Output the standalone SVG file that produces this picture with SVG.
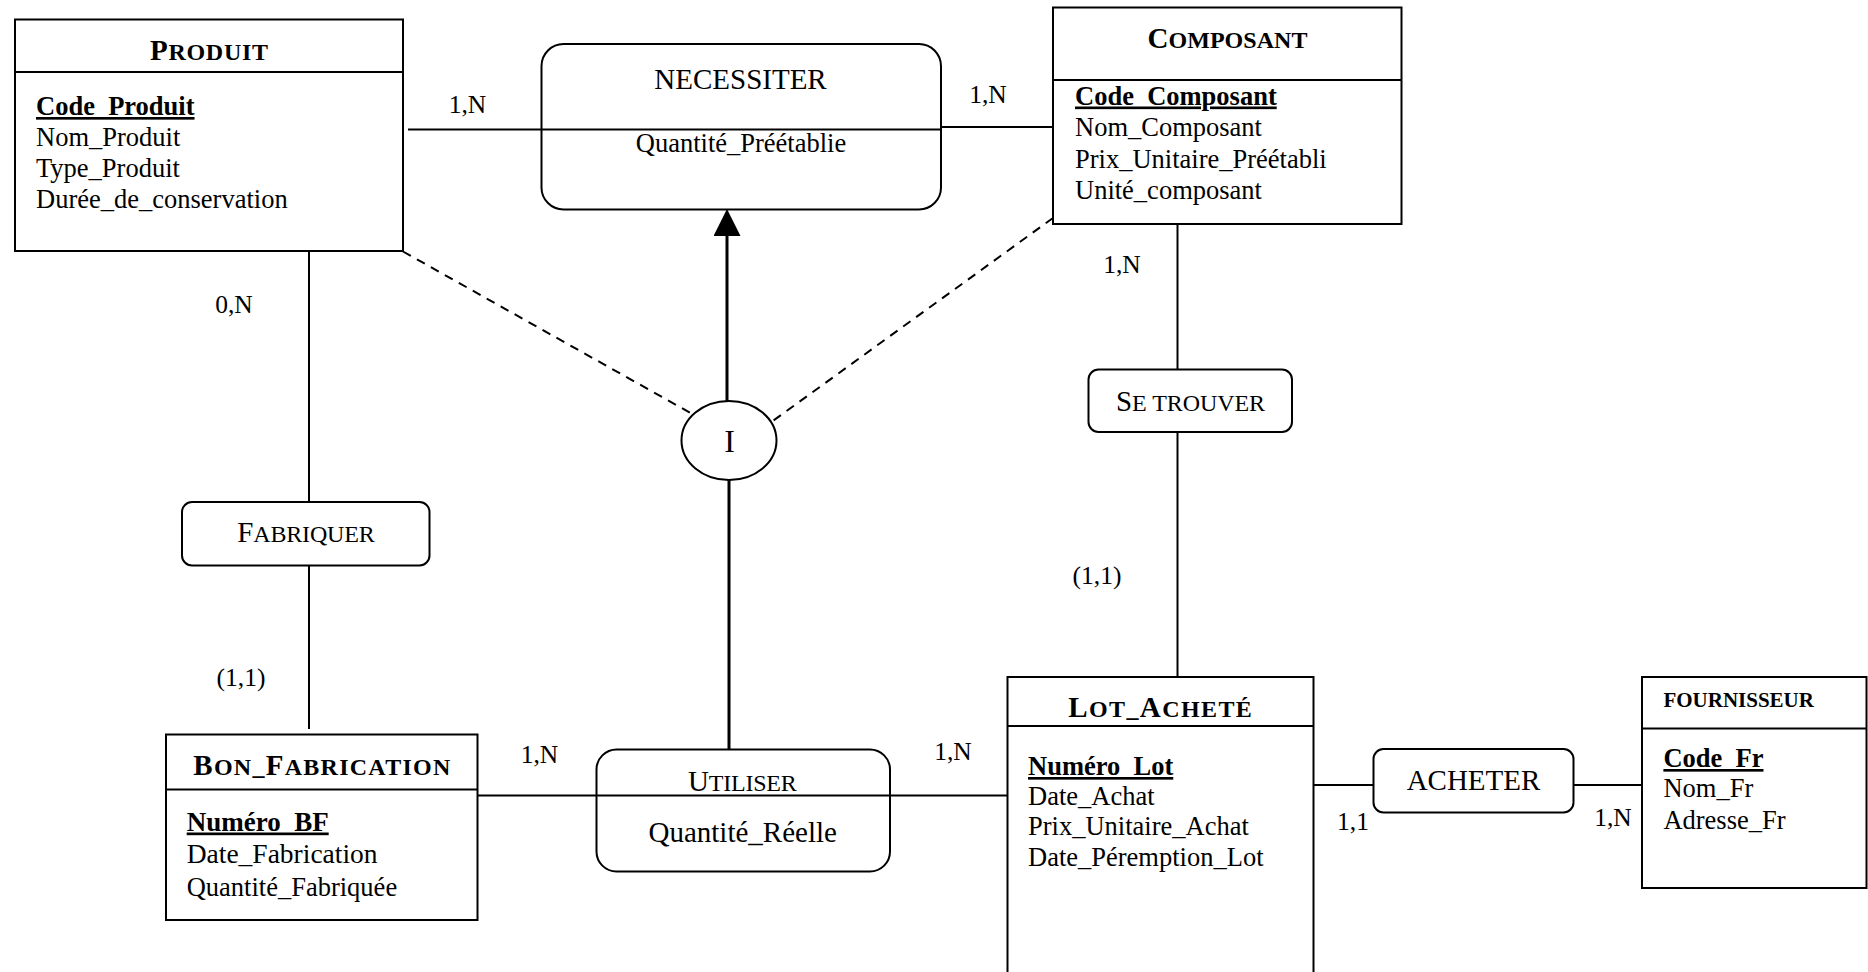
<svg xmlns="http://www.w3.org/2000/svg" width="1868" height="972" viewBox="0 0 1868 972">
<defs>
<marker id="tri" markerUnits="userSpaceOnUse" viewBox="0 0 27 27" refX="0" refY="13.5" markerWidth="27" markerHeight="27" orient="auto">
<path d="M0,0 L27,13.5 L0,27 Z" fill="#000"/>
</marker>
<style>
text{font-family:"Liberation Serif","Times New Roman",serif;fill:#000}
.box{fill:#fff;stroke:#000;stroke-width:2}
.sep{stroke:#000;stroke-width:2}
.ln{stroke:#000;stroke-width:2;fill:none}
.thick{stroke:#000;stroke-width:3;fill:none}
.dash{stroke:#000;stroke-width:2;fill:none;stroke-dasharray:9 7}
.title{font-weight:bold;text-anchor:middle}
.big{font-size:29px}
.sm{font-size:24px}
.attr{font-size:26.5px}
.key{font-weight:bold;text-decoration:underline}
.card{font-size:25.5px;text-anchor:middle}
.rel{font-size:29px;text-anchor:middle}
.mid{text-anchor:middle}
</style>
</defs>
<rect width="1868" height="972" fill="#fff"/>

<g id="connectors">
<path class="ln" d="M408 129.5 H941"/>
<path class="ln" d="M941 127 H1053"/>
<path class="ln" d="M1177.5 224 V369"/>
<path class="ln" d="M1177.5 432 V677"/>
<path class="ln" d="M309 251 V502"/>
<path class="ln" d="M309 565 V729"/>
<path class="ln" d="M478 795.5 H1008"/>
<path class="ln" d="M1314 785 H1373.5"/>
<path class="ln" d="M1573.5 785 H1642"/>
<path class="thick" d="M727 401 V236" marker-end="url(#tri)"/>
<path class="thick" d="M729 480 V749"/>
<path class="dash" d="M403 251.5 L690.5 413"/>
<path class="dash" d="M1053 218 L770 423"/>
<text class="card" x="467.5" y="113.3">1,N</text>
<text class="card" x="988" y="103">1,N</text>
<text class="card" x="1122" y="273">1,N</text>
<text class="card" x="234" y="312.5">0,N</text>
<text class="card" x="241" y="686">(1,1)</text>
<text class="card" x="1097" y="583.5">(1,1)</text>
<text class="card" x="539.5" y="762.7">1,N</text>
<text class="card" x="953" y="760">1,N</text>
<text class="card" x="1353" y="830">1,1</text>
<text class="card" x="1613" y="826">1,N</text>
</g>

<g id="produit">
<rect class="box" x="15" y="19.5" width="388" height="231.5"/>
<line class="sep" x1="15" y1="72" x2="403" y2="72"/>
<text class="title" x="209" y="59.5" textLength="118"><tspan class="big">P</tspan><tspan class="sm">RODUIT</tspan></text>
<text class="attr key" x="36" y="115">Code_Produit</text>
<text class="attr" x="36" y="145.5">Nom_Produit</text>
<text class="attr" x="36" y="176.5">Type_Produit</text>
<text class="attr" x="36" y="207.5">Durée_de_conservation</text>
</g>

<g id="necessiter">
<rect class="box" x="541.5" y="44" width="399.5" height="165.5" rx="22" ry="22"/>
<line class="sep" x1="541.5" y1="129.5" x2="941" y2="129.5"/>
<text class="rel" x="740.5" y="89.3">NECESSITER</text>
<text class="attr mid" x="741" y="151.7">Quantité_Préétablie</text>
</g>

<g id="composant">
<rect class="box" x="1053" y="7.5" width="348.5" height="216.5"/>
<line class="sep" x1="1053" y1="80" x2="1401.5" y2="80"/>
<text class="title" x="1227.5" y="48.3" textLength="160"><tspan class="big">C</tspan><tspan class="sm">OMPOSANT</tspan></text>
<text class="attr key" x="1075" y="104.5">Code_Composant</text>
<text class="attr" x="1075" y="136">Nom_Composant</text>
<text class="attr" x="1075" y="167.5">Prix_Unitaire_Préétabli</text>
<text class="attr" x="1075" y="199">Unité_composant</text>
</g>

<g id="interface">
<ellipse class="box" cx="729" cy="440.5" rx="47.5" ry="39.5"/>
<text class="mid" x="729.5" y="451.5" font-size="32">I</text>
</g>

<g id="se-trouver">
<rect class="box" x="1088.5" y="369.5" width="203.5" height="62.5" rx="10" ry="10"/>
<text class="mid" x="1190.5" y="410.7" textLength="149"><tspan class="big">S</tspan><tspan class="sm">E TROUVER</tspan></text>
</g>

<g id="fabriquer">
<rect class="box" x="182" y="502" width="247.5" height="63.5" rx="10" ry="10"/>
<text class="mid" x="306" y="541.7" textLength="137.5"><tspan class="big">F</tspan><tspan class="sm">ABRIQUER</tspan></text>
</g>

<g id="bon-fabrication">
<rect class="box" x="166" y="734.5" width="311.5" height="185.5"/>
<line class="sep" x1="166" y1="789.5" x2="477.5" y2="789.5"/>
<text class="title" x="321.8" y="775" textLength="257"><tspan class="big">B</tspan><tspan class="sm">ON_</tspan><tspan class="big">F</tspan><tspan class="sm">ABRICATION</tspan></text>
<text class="key" x="186.7" y="830.5" font-size="27">Numéro_BF</text>
<text x="186.7" y="863" font-size="27.5">Date_Fabrication</text>
<text x="186.7" y="895.5" font-size="26.5">Quantité_Fabriquée</text>
</g>

<g id="utiliser">
<rect class="box" x="596.5" y="749.5" width="293.5" height="122" rx="20" ry="20"/>
<line class="sep" x1="596.5" y1="795.5" x2="890" y2="795.5"/>
<text class="mid" x="742.4" y="790.7" textLength="108.7"><tspan class="big">U</tspan><tspan class="sm">TILISER</tspan></text>
<text class="mid" x="742.7" y="841.7" font-size="29">Quantité_Réelle</text>
</g>

<g id="lot-achete">
<rect class="box" x="1007.5" y="677" width="306" height="310"/>
<line class="sep" x1="1007.5" y1="726" x2="1313.5" y2="726"/>
<text class="title" x="1160" y="716.7" textLength="183.7"><tspan class="big">L</tspan><tspan class="sm">OT_</tspan><tspan class="big">A</tspan><tspan class="sm">CHETÉ</tspan></text>
<text class="attr key" x="1028" y="775">Numéro_Lot</text>
<text class="attr" x="1028" y="804.5">Date_Achat</text>
<text class="attr" x="1028" y="835">Prix_Unitaire_Achat</text>
<text class="attr" x="1028" y="865.5">Date_Péremption_Lot</text>
</g>

<g id="acheter">
<rect class="box" x="1373.5" y="749" width="200" height="63.5" rx="10" ry="10"/>
<text class="rel" x="1473.5" y="790">ACHETER</text>
</g>

<g id="fournisseur">
<rect class="box" x="1642" y="677" width="224.5" height="211"/>
<line class="sep" x1="1642" y1="728.5" x2="1866.5" y2="728.5"/>
<text x="1663.4" y="707.3" font-size="21" font-weight="bold">FOURNISSEUR</text>
<text class="attr key" x="1663.4" y="767">Code_Fr</text>
<text class="attr" x="1663.4" y="797">Nom_Fr</text>
<text class="attr" x="1663.4" y="828.5">Adresse_Fr</text>
</g>
</svg>
